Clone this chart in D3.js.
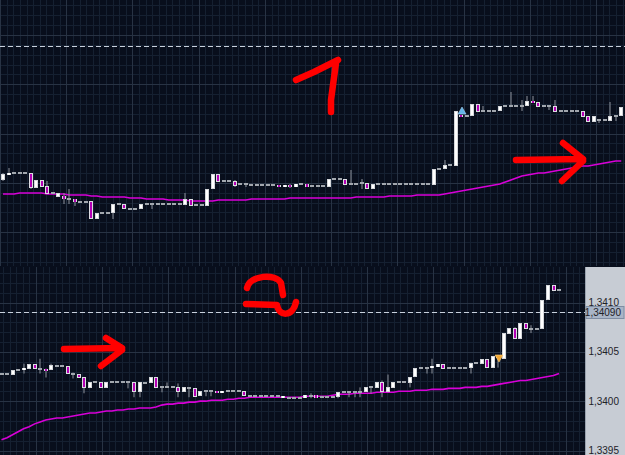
<!DOCTYPE html>
<html><head><meta charset="utf-8">
<script src="https://cdn.jsdelivr.net/npm/d3@7"></script>
<style>html,body{margin:0;padding:0;background:#080e1c;}svg{display:block;}</style>
</head><body>
<svg id="chart" width="625" height="455"></svg>
<script>
// ---------------- DATA ----------------
// Panel 1 (upper chart) OHLC
const topOpen = [
1.33956,1.33961,1.33963,1.33963,1.33963,1.33963,1.33948,1.33956,1.33950,1.33943,
1.33939,1.33940,1.33937,1.33937,1.33934,1.33934,1.33935,1.33917,1.33923,1.33923,
1.33923,1.33932,1.33932,1.33927,1.33927,1.33927,1.33932,1.33932,1.33932,1.33932,
1.33932,1.33932,1.33932,1.33931,1.33937,1.33931,1.33931,1.33930,1.33947,1.33962,
1.33955,1.33955,1.33955,1.33952,1.33952,1.33951,1.33951,1.33951,1.33951,1.33951,
1.33951,1.33949,1.33951,1.33949,1.33952,1.33952,1.33950,1.33950,1.33950,1.33949,
1.33957,1.33957,1.33957,1.33952,1.33952,1.33953,1.33953,1.33947,1.33952,1.33952,
1.33952,1.33952,1.33952,1.33952,1.33952,1.33952,1.33952,1.33952,1.33951,1.33967,
1.33967,1.33971,1.33970,1.34021,1.34020,1.34020,1.34032,1.34025,1.34025,1.34025,
1.34025,1.34030,1.34030,1.34030,1.34030,1.34030,1.34035,1.34034,1.34030,1.34030,
1.34030,1.34025,1.34025,1.34025,1.34025,1.34025,1.34020,1.34014,1.34016,1.34016,
1.34015,1.34020,1.34020];
const topHigh = [
1.33963,1.33968,1.33963,1.33963,1.33963,1.33963,1.33956,1.33956,1.33955,1.33943,
1.33943,1.33943,1.33947,1.33937,1.33934,1.33934,1.33935,1.33923,1.33923,1.33923,
1.33932,1.33932,1.33932,1.33927,1.33927,1.33932,1.33932,1.33932,1.33932,1.33932,
1.33932,1.33932,1.33932,1.33943,1.33937,1.33931,1.33931,1.33947,1.33962,1.33962,
1.33955,1.33955,1.33956,1.33952,1.33952,1.33951,1.33951,1.33951,1.33951,1.33951,
1.33951,1.33951,1.33952,1.33952,1.33952,1.33952,1.33950,1.33950,1.33950,1.33957,
1.33957,1.33957,1.33957,1.33966,1.33952,1.33957,1.33953,1.33952,1.33952,1.33952,
1.33952,1.33952,1.33952,1.33952,1.33952,1.33952,1.33952,1.33952,1.33967,1.33967,
1.33976,1.33971,1.34025,1.34021,1.34020,1.34032,1.34032,1.34030,1.34025,1.34025,
1.34030,1.34030,1.34044,1.34030,1.34036,1.34040,1.34040,1.34034,1.34030,1.34030,
1.34036,1.34025,1.34025,1.34025,1.34025,1.34025,1.34020,1.34020,1.34016,1.34016,
1.34034,1.34020,1.34029];
const topLow = [
1.33955,1.33961,1.33963,1.33963,1.33963,1.33947,1.33948,1.33949,1.33942,1.33943,
1.33939,1.33932,1.33932,1.33930,1.33934,1.33934,1.33917,1.33917,1.33923,1.33923,
1.33917,1.33932,1.33927,1.33927,1.33927,1.33927,1.33932,1.33927,1.33932,1.33932,
1.33932,1.33931,1.33932,1.33931,1.33930,1.33931,1.33931,1.33930,1.33947,1.33954,
1.33955,1.33955,1.33949,1.33952,1.33949,1.33951,1.33951,1.33951,1.33951,1.33951,
1.33949,1.33949,1.33948,1.33949,1.33952,1.33949,1.33950,1.33950,1.33950,1.33949,
1.33957,1.33957,1.33951,1.33952,1.33952,1.33947,1.33947,1.33947,1.33952,1.33952,
1.33952,1.33952,1.33952,1.33952,1.33952,1.33952,1.33952,1.33952,1.33951,1.33967,
1.33967,1.33971,1.33970,1.34020,1.34020,1.34020,1.34024,1.34025,1.34025,1.34025,
1.34025,1.34030,1.34030,1.34030,1.34025,1.34030,1.34033,1.34029,1.34030,1.34026,
1.34024,1.34025,1.34025,1.34025,1.34025,1.34019,1.34014,1.34014,1.34013,1.34016,
1.34015,1.34015,1.34020];
const topClose = [
1.33962,1.33963,1.33963,1.33963,1.33963,1.33948,1.33956,1.33949,1.33942,1.33943,
1.33943,1.33937,1.33937,1.33934,1.33934,1.33934,1.33917,1.33923,1.33923,1.33923,
1.33932,1.33932,1.33927,1.33927,1.33927,1.33932,1.33932,1.33932,1.33932,1.33932,
1.33932,1.33932,1.33932,1.33937,1.33930,1.33931,1.33931,1.33947,1.33962,1.33954,
1.33955,1.33955,1.33950,1.33952,1.33952,1.33951,1.33951,1.33951,1.33951,1.33951,
1.33949,1.33951,1.33949,1.33952,1.33952,1.33949,1.33950,1.33950,1.33950,1.33957,
1.33957,1.33957,1.33951,1.33952,1.33952,1.33953,1.33947,1.33952,1.33952,1.33952,
1.33952,1.33952,1.33952,1.33952,1.33952,1.33952,1.33952,1.33952,1.33967,1.33967,
1.33971,1.33971,1.34025,1.34020,1.34020,1.34032,1.34024,1.34025,1.34025,1.34025,
1.34030,1.34030,1.34030,1.34030,1.34030,1.34035,1.34033,1.34029,1.34030,1.34030,
1.34024,1.34025,1.34025,1.34025,1.34025,1.34019,1.34014,1.34020,1.34016,1.34016,
1.34020,1.34020,1.34029];
const topMA = [
1.33942,1.33942,1.33942,1.33943,1.33943,1.33943,1.33943,1.33943,1.33942,1.33942,
1.33942,1.33942,1.33941,1.33941,1.33941,1.33941,1.33940,1.33940,1.33939,1.33939,
1.33939,1.33939,1.33939,1.33938,1.33938,1.33938,1.33937,1.33937,1.33937,1.33937,
1.33936,1.33936,1.33936,1.33936,1.33935,1.33935,1.33935,1.33935,1.33935,1.33936,
1.33936,1.33936,1.33936,1.33936,1.33936,1.33937,1.33937,1.33937,1.33937,1.33937,
1.33937,1.33937,1.33938,1.33938,1.33938,1.33938,1.33938,1.33938,1.33938,1.33938,
1.33938,1.33938,1.33938,1.33938,1.33939,1.33939,1.33939,1.33939,1.33939,1.33939,
1.33940,1.33940,1.33940,1.33940,1.33940,1.33941,1.33941,1.33941,1.33941,1.33941,
1.33942,1.33943,1.33944,1.33945,1.33946,1.33947,1.33948,1.33949,1.33950,1.33951,
1.33952,1.33954,1.33956,1.33958,1.33960,1.33961,1.33962,1.33963,1.33963,1.33964,
1.33965,1.33966,1.33967,1.33968,1.33969,1.33970,1.33970,1.33971,1.33972,1.33973,
1.33974,1.33975,1.33975];
const topLevel = 1.34090;      // dashed reference line, panel 1
const topSignalUp = 83;        // blue up-triangle candle

// Panel 2 (lower chart) OHLC
const botOpen = [
1.34028,1.34028,1.34027,1.34032,1.34032,1.34033,1.34038,1.34033,1.34033,1.34032,
1.34036,1.34036,1.34036,1.34028,1.34028,1.34024,1.34013,1.34019,1.34019,1.34013,
1.34019,1.34019,1.34019,1.34019,1.34019,1.34009,1.34018,1.34018,1.34024,1.34014,
1.34014,1.34014,1.34014,1.34009,1.34013,1.34013,1.34005,1.34010,1.34010,1.34010,
1.34008,1.34010,1.34010,1.34010,1.34010,1.34005,1.34005,1.34005,1.34005,1.34005,
1.34005,1.34003,1.34003,1.34003,1.34003,1.34003,1.34005,1.34006,1.34004,1.34004,
1.34004,1.34004,1.34009,1.34009,1.34009,1.34009,1.34009,1.34014,1.34013,1.34019,
1.34009,1.34013,1.34019,1.34019,1.34018,1.34024,1.34034,1.34034,1.34034,1.34035,
1.34038,1.34034,1.34034,1.34034,1.34034,1.34034,1.34039,1.34038,1.34043,1.34034,
1.34046,1.34043,1.34068,1.34074,1.34063,1.34079,1.34073,1.34073,1.34073,1.34103,
1.34118,1.34113];
const botHigh = [
1.34028,1.34028,1.34032,1.34032,1.34038,1.34038,1.34038,1.34043,1.34033,1.34038,
1.34036,1.34036,1.34036,1.34029,1.34028,1.34024,1.34019,1.34019,1.34019,1.34019,
1.34019,1.34019,1.34019,1.34019,1.34019,1.34019,1.34018,1.34024,1.34024,1.34014,
1.34019,1.34014,1.34018,1.34014,1.34013,1.34013,1.34010,1.34010,1.34010,1.34010,
1.34010,1.34010,1.34010,1.34010,1.34010,1.34005,1.34005,1.34005,1.34005,1.34005,
1.34005,1.34005,1.34003,1.34003,1.34003,1.34006,1.34008,1.34006,1.34004,1.34004,
1.34004,1.34009,1.34009,1.34009,1.34009,1.34014,1.34014,1.34014,1.34019,1.34021,
1.34027,1.34019,1.34019,1.34019,1.34024,1.34034,1.34034,1.34034,1.34043,1.34038,
1.34038,1.34034,1.34034,1.34034,1.34034,1.34039,1.34039,1.34043,1.34043,1.34046,
1.34047,1.34069,1.34074,1.34075,1.34079,1.34079,1.34077,1.34073,1.34103,1.34118,
1.34118,1.34113];
const botLow = [
1.34028,1.34028,1.34027,1.34032,1.34028,1.34033,1.34033,1.34028,1.34024,1.34032,
1.34036,1.34036,1.34028,1.34023,1.34023,1.34008,1.34013,1.34019,1.34013,1.34013,
1.34019,1.34019,1.34019,1.34013,1.34004,1.34004,1.34018,1.34018,1.34013,1.34009,
1.34014,1.34014,1.34004,1.34009,1.34004,1.34004,1.34005,1.34005,1.34005,1.34008,
1.34008,1.34010,1.34010,1.34010,1.34005,1.34005,1.34005,1.34005,1.34005,1.34005,
1.34005,1.34003,1.34003,1.34003,1.34003,1.34003,1.34003,1.34003,1.34004,1.34004,
1.34004,1.34003,1.34009,1.34004,1.34004,1.34004,1.34009,1.34008,1.34013,1.34004,
1.34009,1.34013,1.34019,1.34019,1.34014,1.34024,1.34034,1.34028,1.34028,1.34035,
1.34033,1.34034,1.34034,1.34034,1.34034,1.34028,1.34039,1.34038,1.34034,1.34034,
1.34034,1.34043,1.34068,1.34063,1.34063,1.34073,1.34069,1.34073,1.34073,1.34103,
1.34112,1.34113];
const botClose = [
1.34028,1.34028,1.34032,1.34032,1.34034,1.34038,1.34033,1.34033,1.34032,1.34037,
1.34036,1.34036,1.34028,1.34028,1.34023,1.34013,1.34019,1.34019,1.34013,1.34019,
1.34019,1.34019,1.34019,1.34019,1.34009,1.34019,1.34018,1.34024,1.34013,1.34014,
1.34014,1.34014,1.34009,1.34014,1.34013,1.34004,1.34010,1.34010,1.34010,1.34008,
1.34010,1.34010,1.34010,1.34010,1.34005,1.34005,1.34005,1.34005,1.34005,1.34005,
1.34005,1.34005,1.34003,1.34003,1.34003,1.34006,1.34005,1.34003,1.34004,1.34004,
1.34004,1.34009,1.34009,1.34009,1.34009,1.34009,1.34014,1.34014,1.34019,1.34009,
1.34014,1.34019,1.34019,1.34019,1.34024,1.34034,1.34034,1.34034,1.34036,1.34038,
1.34033,1.34034,1.34034,1.34034,1.34034,1.34039,1.34039,1.34043,1.34034,1.34046,
1.34045,1.34069,1.34074,1.34063,1.34079,1.34073,1.34073,1.34073,1.34103,1.34118,
1.34112,1.34113];
const botMA = [
1.33961,1.33963,1.33966,1.33969,1.33972,1.33974,1.33977,1.33979,1.33981,1.33982,
1.33983,1.33983,1.33984,1.33985,1.33986,1.33987,1.33988,1.33988,1.33989,1.33990,
1.33990,1.33991,1.33991,1.33992,1.33992,1.33993,1.33993,1.33993,1.33994,1.33996,
1.33997,1.33997,1.33998,1.33998,1.33999,1.33999,1.34000,1.34000,1.34001,1.34001,
1.34001,1.34002,1.34002,1.34003,1.34003,1.34004,1.34004,1.34004,1.34004,1.34004,
1.34004,1.34004,1.34004,1.34004,1.34004,1.34005,1.34005,1.34005,1.34005,1.34005,
1.34006,1.34007,1.34007,1.34007,1.34008,1.34008,1.34008,1.34008,1.34009,1.34009,
1.34009,1.34009,1.34010,1.34010,1.34010,1.34011,1.34011,1.34011,1.34012,1.34012,
1.34012,1.34013,1.34013,1.34013,1.34014,1.34014,1.34014,1.34015,1.34015,1.34016,
1.34017,1.34018,1.34019,1.34020,1.34021,1.34021,1.34022,1.34023,1.34024,1.34025,
1.34026,1.34028];
const botLevel = 1.34090;      // dashed last-price line, panel 2
const botSignalDown = 90;      // orange down-triangle candle
const priceTicks = [1.3410, 1.3405, 1.3400, 1.3395];

// ---------------- DRAW ----------------
const W = 625, H = 455;
const svg = d3.select("#chart");
const BG = "#080e1c", MINOR = "#152031", MAJOR = "#283344";

const locale = d3.formatLocale({decimal: ",", thousands: ".", grouping: [3], currency: ["", ""]});
const fmt4 = locale.format(".4f"), fmt5 = locale.format(".5f");

const topP = {x0: 0, x1: 625, y0: 0, y1: 266};
const botP = {x0: 0, x1: 585, y0: 267, y1: 455};

const topX = d3.scaleLinear().domain([0, 112]).range([3, 3 + 5.52 * 112]);
const topY = d3.scaleLinear().domain([1.34090, 1.33917]).range([46, 219]);
const botX = d3.scaleLinear().domain([0, 101]).range([1.5, 1.5 + 5.52 * 101]);
const botY = d3.scaleLinear().domain([1.3410, 1.3395]).range([302.5, 450.5]);

svg.append("rect").attr("width", W).attr("height", H).attr("fill", BG);

const defs = svg.append("defs");
[["clipTop", topP], ["clipBot", botP]].forEach(([id, p]) => {
  defs.append("clipPath").attr("id", id).append("rect")
    .attr("x", p.x0).attr("y", p.y0).attr("width", p.x1 - p.x0).attr("height", p.y1 - p.y0);
});

function grid(g, p, x, y, majorIdx0, majorPrice0, majorPriceStep, hMinorDiv) {
  // vertical time grid: major every 12 bars, 10 minors per major
  const vMinor = [], vMajor = [];
  for (let k = -30; k < 200; k++) {
    const idx = majorIdx0 + k * 1.2;
    const px = Math.round(x(idx)) + 0.5;
    if (px < p.x0 || px > p.x1) continue;
    (((k % 10) + 10) % 10 === 0 ? vMajor : vMinor).push(px);
  }
  const hMinor = [], hMajor = [];
  for (let k = -60; k < 60; k++) {
    const price = majorPrice0 - k * majorPriceStep / hMinorDiv;
    const py = Math.round(y(price)) + 0.5;
    if (py < p.y0 || py > p.y1) continue;
    (((k % hMinorDiv) + hMinorDiv) % hMinorDiv === 0 ? hMajor : hMinor).push(py);
  }
  g.selectAll(".vmin").data(vMinor).join("line").attr("x1", d => d).attr("x2", d => d)
    .attr("y1", p.y0).attr("y2", p.y1).attr("stroke", MINOR);
  g.selectAll(".hmin").data(hMinor).join("line").attr("y1", d => d).attr("y2", d => d)
    .attr("x1", p.x0).attr("x2", p.x1).attr("stroke", MINOR);
  g.selectAll(".vmaj").data(vMajor).join("line").attr("x1", d => d).attr("x2", d => d)
    .attr("y1", p.y0).attr("y2", p.y1).attr("stroke", MAJOR);
  g.selectAll(".hmaj").data(hMajor).join("line").attr("y1", d => d).attr("y2", d => d)
    .attr("x1", p.x0).attr("x2", p.x1).attr("stroke", MAJOR);
}

function candles(g, x, y, O, Hh, L, C) {
  const data = O.map((o, i) => ({i, o, h: Hh[i], l: L[i], c: C[i]}));
  const cx = d => Math.round(x(d.i));
  g.selectAll(".wick").data(data.filter(d => d.h > Math.max(d.o, d.c) || d.l < Math.min(d.o, d.c)))
    .join("rect").attr("x", d => cx(d) - 0.5).attr("width", 1)
    .attr("y", d => y(d.h)).attr("height", d => Math.max(1, y(d.l) - y(d.h)))
    .attr("fill", "#8d929b");
  data.forEach(d => {
    const x0 = cx(d) - 2;
    if (d.o === d.c) {
      g.append("rect").attr("x", x0).attr("y", Math.round(y(d.o)) - 1).attr("width", 4).attr("height", 2)
        .attr("fill", "#a2a7ae");
      return;
    }
    const up = d.c > d.o;
    const top = Math.round(y(Math.max(d.o, d.c))), bot = Math.round(y(Math.min(d.o, d.c)));
    const hgt = Math.max(2, bot - top);
    g.append("rect").attr("x", x0).attr("y", top).attr("width", 4).attr("height", hgt)
      .attr("fill", up ? "#d4d6da" : "#dcdce2");
    g.append("rect").attr("x", x0 + 1).attr("y", top + (hgt > 3 ? 1 : 0)).attr("width", 2)
      .attr("height", hgt > 3 ? hgt - 2 : hgt)
      .attr("fill", up ? "#ffffff" : "#b400b4");
  });
}

function maLine(g, x, y, vals) {
  g.append("path").datum(vals)
    .attr("d", d3.line().x((d, i) => x(i)).y(d => y(d)))
    .attr("fill", "none").attr("stroke", "#d800d8").attr("stroke-width", 1.6);
}

// ---- top panel
const gTop = svg.append("g").attr("clip-path", "url(#clipTop)");
grid(gTop, topP, topX, topY, -0.54, 1.34101, 0.000493, 5);
gTop.append("line").attr("x1", 0).attr("x2", 625).attr("y1", Math.round(topY(topLevel)) + 0.5)
  .attr("y2", Math.round(topY(topLevel)) + 0.5).attr("stroke", "#c8d0dc").attr("stroke-dasharray", "5,3");
maLine(gTop, topX, topY, topMA);
candles(gTop, topX, topY, topOpen, topHigh, topLow, topClose);
{
  const cx = Math.round(topX(topSignalUp)) + 1, yb = Math.round(topY(topHigh[topSignalUp])) - 1;
  gTop.append("path").attr("d", d3.line()([[cx - 4, yb], [cx + 4, yb], [cx, yb - 7]]) + "Z")
    .attr("fill", "#63b4ea").attr("stroke", "#a6d4f2").attr("stroke-width", 0.6);
}

// ---- bottom panel
const gBot = svg.append("g").attr("clip-path", "url(#clipBot)");
grid(gBot, botP, botX, botY, 6.25, 1.3410, 0.0005, 5);
gBot.append("line").attr("x1", 0).attr("x2", 585).attr("y1", Math.round(botY(botLevel)) + 0.5)
  .attr("y2", Math.round(botY(botLevel)) + 0.5).attr("stroke", "#c8d0dc").attr("stroke-dasharray", "5,3");
maLine(gBot, botX, botY, botMA);
candles(gBot, botX, botY, botOpen, botHigh, botLow, botClose);
{
  const cx = Math.round(botX(botSignalDown)) + 1, yt = Math.round(botY(botHigh[botSignalDown]));
  gBot.append("path").attr("d", d3.line()([[cx - 4, yt], [cx + 4, yt], [cx, yt + 7]]) + "Z")
    .attr("fill", "#f2a632").attr("stroke", "#ffd27a").attr("stroke-width", 0.6);
}

// ---- price axis (bottom right)
const ax = svg.append("g");
ax.append("rect").attr("x", 585).attr("y", 267).attr("width", 40).attr("height", 188).attr("fill", "#c7ccd4");
ax.append("line").attr("x1", 585.5).attr("x2", 585.5).attr("y1", 267).attr("y2", 455).attr("stroke", "#9aa2ae");
ax.selectAll(".tick").data(priceTicks).join("text")
  .attr("x", 619).attr("y", d => botY(d)).attr("dy", "0.35em").attr("text-anchor", "end")
  .attr("font-family", "Liberation Sans, Arial, sans-serif").attr("font-size", 10).attr("fill", "#1e2228")
  .text(d => fmt4(d));
{
  const yl = Math.round(botY(botLevel)) + 0.5;
  ax.append("rect").attr("x", 586).attr("y", yl - 6).attr("width", 38).attr("height", 12)
    .attr("fill", "#a9b5c7").attr("stroke", "#7f8da3");
  ax.append("text").attr("x", 621).attr("y", yl).attr("dy", "0.35em").attr("text-anchor", "end")
    .attr("font-family", "Liberation Sans, Arial, sans-serif").attr("font-size", 10).attr("fill", "#1e2228")
    .text(fmt5(botLevel));
}

// ---- hand-drawn red annotations
const red = svg.append("g").attr("fill", "none").attr("stroke", "#ff0000").attr("stroke-width", 6.5)
  .attr("stroke-linecap", "round").attr("stroke-linejoin", "round");
const scribbles = [
  "M296,80 L314,72 L328,65 L338,60 M336,63 L333,85 L331,100 L331,112",          // "1"
  "M516,160 L582,159 M563,143 L583,159 M583,161 L562,181",                         // arrow 1
  "M247,288 C250,275 276,273 281,283 L283,295 M246,304 L277,305 C279,317 293,317 296,302", // "2"
  "M64,349 L121,348 M106,338 L122,348 M122,350 L101,366"                           // arrow 2
];
red.selectAll("path").data(scribbles).join("path").attr("d", d => d);
</script>
</body></html>
